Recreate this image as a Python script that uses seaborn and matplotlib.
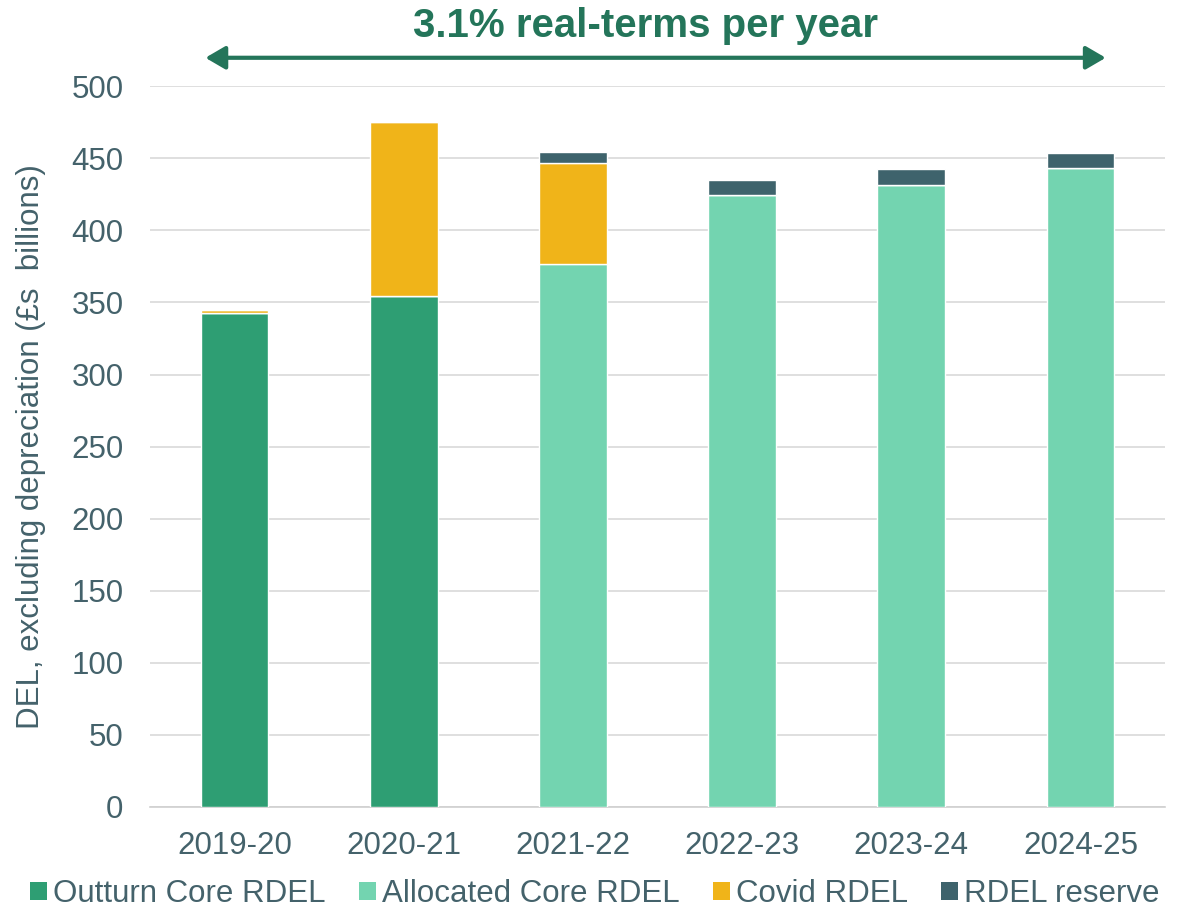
import numpy as np
import pandas as pd
import matplotlib
matplotlib.use("Agg")
import matplotlib.pyplot as plt
import seaborn as sns
from matplotlib.patches import Patch

# data (£ billions)
years = ["2019-20", "2020-21", "2021-22", "2022-23", "2023-24", "2024-25"]
outturn_core = [343, 354.5, 0, 0, 0, 0]
allocated_core = [0, 0, 377, 424.5, 431.5, 443]
covid = [2, 121, 69.5, 0, 0, 0]
reserve = [0, 0, 8, 10.5, 11, 10.5]

series_names = ["Outturn Core RDEL", "Allocated Core RDEL", "Covid RDEL", "RDEL reserve"]
series_vals = [outturn_core, allocated_core, covid, reserve]
colors = ["#2E9E73", "#73D4B0", "#F0B419", "#3E636C"]

text_col = "#44626B"
title_col = "#24755A"

sns.set_style("white")
plt.rcParams["font.family"] = ["Liberation Sans", "DejaVu Sans"]

fig = plt.figure(figsize=(11.78, 9.17), dpi=100)
ax = fig.add_axes([0.1273, 0.12, 0.8617, 0.786])

df = pd.DataFrame({"year": years})
bottom = np.zeros(len(years))
for name, vals, c in zip(series_names, series_vals, colors):
    df[name] = vals
    sns.barplot(data=df, x="year", y=name, color=c, bottom=bottom, width=0.4,
                saturation=1, ax=ax, zorder=3)
    bottom = bottom + np.array(vals)

ax.set_ylim(0, 500)
ax.set_xlim(-0.5, 5.5)
ax.set_yticks(range(0, 501, 50))
ax.yaxis.grid(True, color="#D9D9D9", linewidth=1.2, zorder=0)
ax.set_axisbelow(True)
for s in ["top", "right", "left"]:
    ax.spines[s].set_visible(False)
ax.spines["bottom"].set_color("#D0D0D0")
ax.spines["bottom"].set_linewidth(1.2)
ax.tick_params(axis="both", length=0, labelsize=22.5, colors=text_col)
ax.tick_params(axis="y", pad=19)
ax.tick_params(axis="x", pad=17)
ax.set_xlabel("")
ax.set_ylabel("DEL, excluding depreciation (£s  billions)", fontsize=22.5,
              color=text_col, labelpad=18)

# growth annotation at top
fig.text(0.548, 0.972, "3.1% real-terms per year", ha="center", va="center",
         fontsize=29, fontweight="bold", color=title_col)
fig.add_artist(matplotlib.patches.FancyArrowPatch(
    (0.172, 0.937), (0.941, 0.937), transform=fig.transFigure,
    arrowstyle="<|-|>,head_length=0.6,head_width=0.35", mutation_scale=20,
    color=title_col, linewidth=3))

handles = [Patch(facecolor=c, edgecolor="none") for c in colors]
leg = fig.legend(handles, series_names, loc="lower center", bbox_to_anchor=(0.505, -0.022),
                 ncol=4, frameon=False, fontsize=22.5, handlelength=0.55, handleheight=0.55,
                 handletextpad=0.2, columnspacing=1.05)
for t in leg.get_texts():
    t.set_color(text_col)

fig.savefig("out.png", dpi=100)
